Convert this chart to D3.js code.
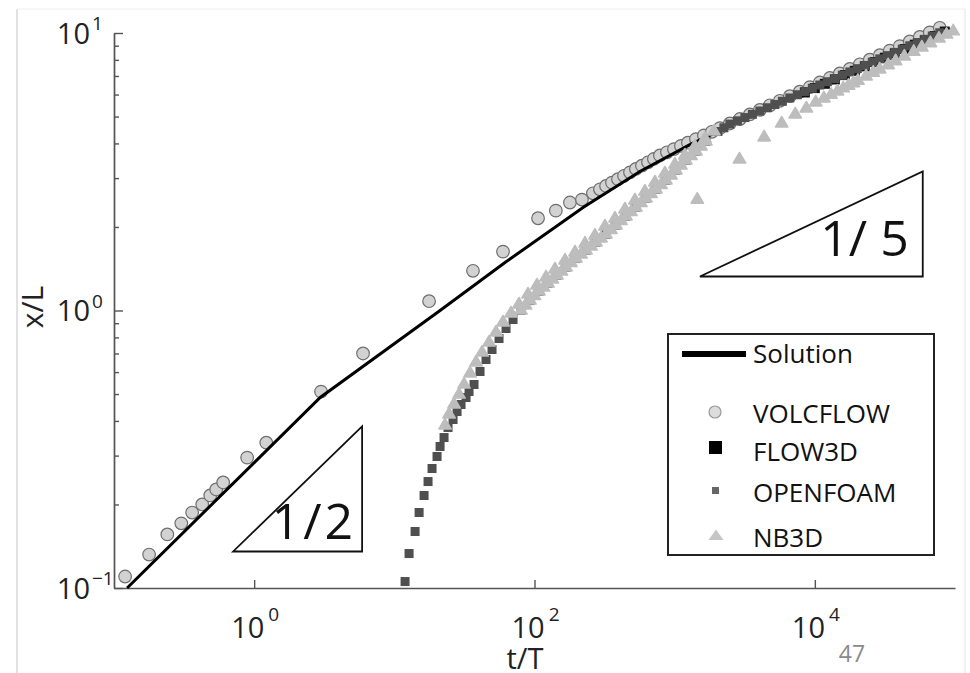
<!DOCTYPE html>
<html><head><meta charset="utf-8">
<script src="https://cdn.jsdelivr.net/npm/d3@7"></script>
<style>
body{margin:0;background:#fff;}
svg{display:block;}
text{font-family:"Open Sans","Noto Sans",sans-serif;}
</style>
</head><body>
<svg id="c" width="970" height="673"></svg>
<script>
// ---------- DATA (t/T , x/L) ----------
const solution = [[0.124,0.100],[2.96,0.486],[21.2,1.00],[61.6,1.489],[222,2.35],[565,3.17],[1285,3.96],[3440,5.00],[9200,6.26],[24660,7.89],[91800,10.3]];

const volcflow = [[0.120,0.110],[0.178,0.132],[0.240,0.156],[0.302,0.171],[0.361,0.187],[0.426,0.200],[0.486,0.2155],[0.536,0.2265],[0.601,0.240],[0.891,0.295],[1.22,0.334],[3.00,0.510],[5.98,0.700],[17.7,1.08],[36.4,1.39],[59.6,1.63],[106,2.15],[142,2.29],[179,2.45],[218,2.51],
[261,2.644],[293,2.734],[324,2.810],[357,2.890],[394,2.973],[435,3.058],[480,3.146],[529,3.236],[584,3.325],[645,3.420],[711,3.518],[785,3.619],
[881,3.716],[988,3.816],[1108,3.919],[1243,4.025],[1418,4.147],[1617,4.276],[1843,4.406],[2102,4.542],
[2477,4.720],[2919,4.898],[3440,5.089],[4053,5.284],[4776,5.489],[5627,5.697],[6631,5.919],[7816,6.144],[9210,6.383],[10850,6.631],[12790,6.883],[15080,7.151],[17770,7.423],[20940,7.714],[24670,8.014],[29080,8.318],[34260,8.642],[40380,8.971],[47580,9.320],[56080,9.681],[66070,10.05],[77860,10.44]];

const flow3d = [[8486,6.105],[10000,6.330],[11790,6.560],[13890,6.800],[16370,7.052],[19290,7.308],[22730,7.580],[26790,7.855],[31560,8.147],[37190,8.443],[43830,8.756],[51640,9.074],[60850,9.413],[71730,9.755],[84530,10.12]];

const openfoam = [[11.93,0.1055],[12.74,0.1331],[14.06,0.1598],[15.02,0.1871],[16.30,0.2154],[17.40,0.2419],[18.58,0.2695],[20.17,0.2978],[21.20,0.3236],[22.63,0.3485],[24.16,0.3789],[26.24,0.4048],[28.02,0.4325],[29.92,0.4584],[32.48,0.4858],[34.12,0.5105],[37.04,0.5412],
[40.87,0.6029],[45.10,0.6658],[49.77,0.7235],[55.84,0.7925],[62.64,0.8613],[70.27,0.9281],[80.13,1.000],[92.88,1.086],[107.7,1.171],[124.8,1.251],[144.7,1.337],[167.7,1.429],[197.7,1.539],[232.9,1.645],[274.5,1.758],[323.5,1.878],[381.2,2.025],[449.2,2.182],[529.3,2.350],[623.7,2.533],[734.9,2.729],[866.1,2.942],[1021,3.195],[1203,3.471],[1418,3.741],[1671,4.064],[2034,4.416],
[2245,4.553],[2477,4.696],[2802,4.825],[3170,4.957],[3585,5.093],[4053,5.235],[4584,5.378],[5185,5.526],[5866,5.675],[6631,5.834],[7503,5.991],[8486,6.156],[9598,6.322],[10850,6.495],[12280,6.674],[13890,6.855],[15710,7.046],[17770,7.240],[20090,7.438],[22730,7.641],[25700,7.852],[29080,8.068],[32880,8.287],[37190,8.514],[42060,8.750],[47580,8.995],[53800,9.239],[60850,9.490],[68820,9.750],[77860,10.02]];

const nb3d = [[23.01,0.3884],[24.57,0.4255],[26.67,0.4623],[28.95,0.5022],[31.43,0.5456],[34.68,0.5978],[38.28,0.6550],[42.24,0.7115],[47.39,0.7731],[53.16,0.8401],[59.64,0.9129],[68.01,0.9835],[77.53,1.060],[89.88,1.152],[104.2,1.241],[120.8,1.326],[140.0,1.417],[165.1,1.527],[194.5,1.632],[229.2,1.758],[270.0,1.878],[318.2,2.025],[375.0,2.163],[441.9,2.332],[520.7,2.512],[613.6,2.706],[723.0,2.917],[852.1,3.143],[1004,3.386],[1183,3.649],[1395,3.932],[1643,4.201],[1905,4.453],
[80.13,1.008],[92.88,1.095],[107.7,1.181],[124.8,1.261],[144.7,1.348],[167.7,1.441],[197.7,1.552],[232.9,1.659],[274.5,1.773],[323.5,1.894],[381.2,2.042],[449.2,2.200],[529.3,2.370],[623.7,2.554],[734.9,2.752],[866.1,2.966],[1021,3.222],[1203,3.500],[1418,3.772],[1671,4.098],
[86.25,1.051],[100.0,1.137],[115.9,1.220],[134.4,1.304],[155.8,1.393],[182.0,1.496],[214.6,1.605],[252.9,1.715],[298.1,1.833],[351.2,1.966],[413.9,2.119],[487.7,2.283],[574.8,2.460],[677.3,2.651],[798.0,2.857],[940.4,3.091],[1108,3.358],[1306,3.634],[1539,3.932],
[1450,2.53],[2900,3.53],[4350,4.24],[5800,4.76],[7250,5.13],[8700,5.39],[10150,5.67],[11600,5.86],[13050,6.04],[14500,6.21],[15950,6.37],[17400,6.51],[18850,6.65],[20300,6.78],[23200,7.03],[26100,7.25],[29000,7.45],[33350,7.72],[37700,7.98],[43500,8.29],[50750,8.63],[58000,8.94],[66700,9.27],[76850,9.63],[87000,9.95],[97150,10.23]];

const yMajorTicks = [0.1, 1, 10];
const yExponents = ["\u22121", "0", "1"];
const yMinorTicks = [0.2,0.3,0.4,0.5,0.6,0.7,0.8,0.9,2,3,4,5,6,7,8,9];
const xMajorTicks = [1, 100, 10000];
const xExponents = ["0", "2", "4"];
const legendLabels = ["Solution","VOLCFLOW","FLOW3D","OPENFOAM","NB3D"];

const slopeHalfT = [0.708, 5.89, 5.89];
const slopeHalfX = [0.1354, 0.1354, 0.382];
const slopeFifthT = [1514, 58880, 58880];
const slopeFifthX = [1.326, 1.326, 3.17];

// ---------- CHART ----------
const svg = d3.select("#c");
const xS = d3.scaleLog().domain([0.1, 1e5]).range([114, 955]);
const yS = d3.scaleLog().domain([0.1, 10]).range([588, 33]);

// slide frame
svg.append("line").attr("x1",17).attr("y1",9).attr("x2",17).attr("y2",673).attr("stroke","#c4c4c4").attr("stroke-width",1);
svg.append("line").attr("x1",965).attr("y1",9).attr("x2",965).attr("y2",673).attr("stroke","#e4e4e4").attr("stroke-width",1);
svg.append("line").attr("x1",17).attr("y1",9).attr("x2",965).attr("y2",9).attr("stroke","#efefef").attr("stroke-width",1);

// axes
function styleAxis(g){
  g.selectAll("path,line").attr("stroke","#555").attr("stroke-width",1.4);
  g.selectAll("text").remove();
}
svg.append("g").attr("transform","translate(114,0)")
  .call(d3.axisLeft(yS).tickValues(yMinorTicks).tickSize(-5).tickSizeOuter(0).tickFormat(""))
  .call(styleAxis);
svg.append("g").attr("transform","translate(114,0)")
  .call(d3.axisLeft(yS).tickValues(yMajorTicks).tickSize(-9).tickSizeOuter(0).tickFormat(""))
  .call(styleAxis);
svg.append("g").attr("transform","translate(0,588)")
  .call(d3.axisBottom(xS).tickValues(xMajorTicks).tickSize(-8).tickSizeOuter(0).tickFormat(""))
  .call(styleAxis);

// y tick labels
yMajorTicks.forEach((v,i)=>{
  const yy = yS(v);
  svg.append("text").attr("x",90).attr("y",yy+10.5).attr("text-anchor","end")
    .attr("font-size",29).attr("fill","#222").text("10");
  svg.append("text").attr("x",92).attr("y",yy-3).attr("text-anchor","start")
    .attr("font-size",19).attr("fill","#222").text(yExponents[i]);
});
// x tick labels
xMajorTicks.forEach((v,i)=>{
  const t = svg.append("text").attr("x",xS(v)+1).attr("y",638).attr("text-anchor","middle")
    .attr("font-size",29).attr("fill","#222");
  t.append("tspan").text("10");
  t.append("tspan").attr("dx",4).attr("dy",-17).attr("font-size",19).text(xExponents[i]);
});
// axis titles
svg.append("text").attr("x",525).attr("y",669).attr("text-anchor","middle")
  .attr("font-size",29).attr("fill","#222").text("t/T");
svg.append("text").attr("transform","translate(43,307) rotate(-90)").attr("text-anchor","middle")
  .attr("font-size",30).attr("fill","#222").text("x/L");

// slope triangles
function slopeTri(ts, xs){
  const pts = ts.map((t,i)=>[xS(t), yS(xs[i])]);
  svg.append("path").attr("d", d3.line()(pts)+"Z").attr("fill","none").attr("stroke","#111").attr("stroke-width",1.8);
}
slopeTri(slopeHalfT, slopeHalfX);
slopeTri(slopeFifthT, slopeFifthX);
svg.append("text").attr("x", xS(slopeHalfT[1])-6).attr("y", yS(slopeHalfX[0])-12)
  .attr("text-anchor","end").attr("font-size",50).attr("letter-spacing",3).attr("fill","#111").text("1/2");
svg.append("text").attr("x", xS(slopeFifthT[1])-14).attr("y", yS(slopeFifthX[0])-20)
  .attr("text-anchor","end").attr("font-size",50).attr("fill","#111").text("1/ 5");

// series
const triPath = "M0,-6L6.2,4.5L-6.2,4.5Z";
svg.append("g").selectAll("circle").data(volcflow).join("circle")
  .attr("cx",d=>xS(d[0])).attr("cy",d=>yS(d[1])).attr("r",6.3)
  .attr("fill","#d2d2d2").attr("stroke","#6e6e6e").attr("stroke-width",1.2);

svg.append("path").datum(solution)
  .attr("d", d3.line().x(d=>xS(d[0])).y(d=>yS(d[1])))
  .attr("fill","none").attr("stroke","#000").attr("stroke-width",3);

svg.append("g").selectAll("rect").data(flow3d).join("rect")
  .attr("x",d=>xS(d[0])-5).attr("y",d=>yS(d[1])-5).attr("width",10).attr("height",10)
  .attr("fill","#111");

svg.append("g").selectAll("rect").data(openfoam).join("rect")
  .attr("x",d=>xS(d[0])-4.5).attr("y",d=>yS(d[1])-4.5).attr("width",9).attr("height",9)
  .attr("fill","#4f4f4f");

svg.append("g").selectAll("path").data(nb3d).join("path")
  .attr("d",triPath).attr("transform",d=>`translate(${xS(d[0])},${yS(d[1])})`)
  .attr("fill","#bdbdbd").attr("stroke","#bdbdbd").attr("stroke-width",1.5).attr("stroke-linejoin","round");

// legend
const lg = svg.append("g");
lg.append("rect").attr("x",668).attr("y",334).attr("width",266).attr("height",221)
  .attr("fill","#fff").attr("stroke","#222").attr("stroke-width",2);
const legBase = [363, 423, 461, 502, 547];
legendLabels.forEach((lab,i)=>{
  lg.append("text").attr("x",753).attr("y",legBase[i]).attr("font-size",26).attr("fill","#111").text(lab);
});
lg.append("line").attr("x1",682).attr("x2",746).attr("y1",354).attr("y2",354).attr("stroke","#000").attr("stroke-width",6);
lg.append("circle").attr("cx",715).attr("cy",412).attr("r",6).attr("fill","#dcdcdc").attr("stroke","#999").attr("stroke-width",1.2);
lg.append("rect").attr("x",709).attr("y",441).attr("width",13).attr("height",13).attr("fill","#000");
lg.append("rect").attr("x",712).attr("y",487).attr("width",7).attr("height",7).attr("fill","#666");
lg.append("path").attr("d","M0,-5.5L7.5,5L-7.5,5Z").attr("transform","translate(716,535)").attr("fill","#c6c6c6");

// page number
svg.append("text").attr("x",852).attr("y",662).attr("text-anchor","middle")
  .attr("font-size",23).attr("fill","#8a8a8a").text("47");
</script>
</body></html>
